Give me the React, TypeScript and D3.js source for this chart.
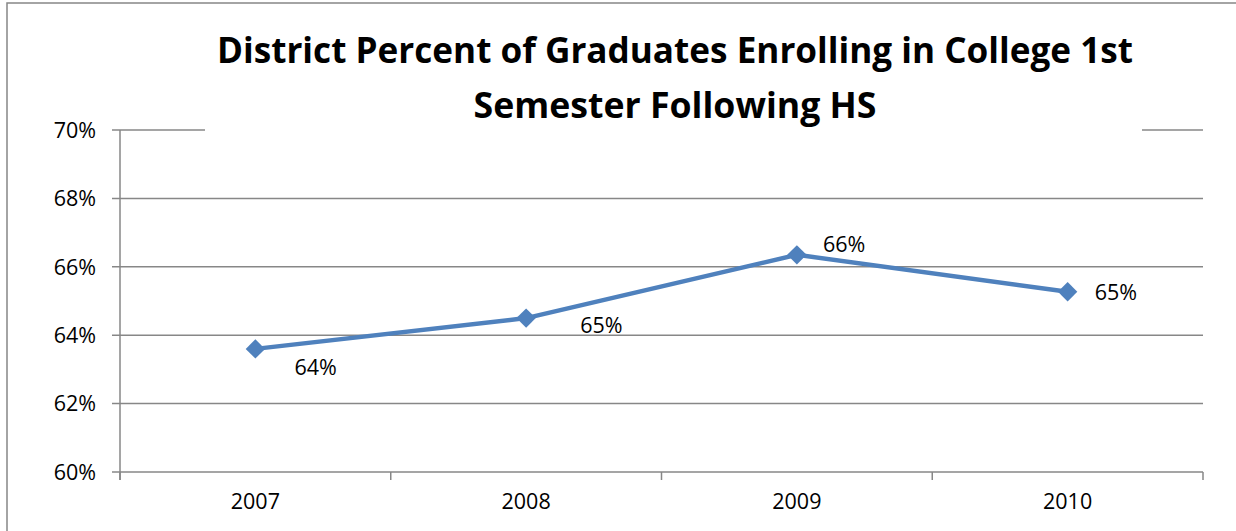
import React from "react";
import * as d3 from "d3";

const categories = ["2007", "2008", "2009", "2010"];
const values = [63.6, 64.5, 66.35, 65.27];
const labels = ["64%", "65%", "66%", "65%"];
const yTicks = [60, 62, 64, 66, 68, 70];
const titleLines = ["District Percent of Graduates Enrolling in College 1st", "Semester Following HS"];

const W = 1236, H = 531;
const M = { left: 120, right: 1203, top: 130, bottom: 472 };
const FONT = "'Open Sans', 'Liberation Sans', sans-serif";
const GRID = "#878787";
const BLUE = "#4F81BD";

export default function App() {
  const x = d3.scaleBand<string>().domain(categories).range([M.left, M.right]);
  const y = d3.scaleLinear().domain([60, 70]).range([M.bottom, M.top]);
  const cx = (c: string) => (x(c) ?? 0) + x.bandwidth() / 2;
  const line = d3.line<number>().x((_, i) => cx(categories[i])).y((v) => y(v));
  const boundaries = categories.map((c) => x(c) ?? 0).concat([M.right]);
  const labelOffsets: [number, number][] = [
    [39, 26],
    [54, 15],
    [26, -3],
    [27, 8],
  ];
  const diamond = d3.symbol().type(d3.symbolDiamond2 ?? d3.symbolDiamond).size(240)();
  return (
    <svg width={W} height={H} style={{ position: "absolute", left: 0, top: 0 }}>
      <rect x={0} y={0} width={W} height={H} fill="#fff" />
      <path d={`M7,${H} V3 H${W}`} fill="none" stroke={GRID} strokeWidth={1.5} />
      {yTicks.map((t) => (
        <g key={t}>
          <line x1={M.left - 8} x2={M.right} y1={y(t)} y2={y(t)} stroke={GRID} strokeWidth={1.5} />
          <text x={96} y={y(t)} dy="0.36em" textAnchor="end" fontFamily={FONT} fontSize={21.5} fill="#000">
            {t}%
          </text>
        </g>
      ))}
      <line x1={M.left} x2={M.left} y1={M.top} y2={M.bottom + 8} stroke={GRID} strokeWidth={1.5} />
      {boundaries.map((b, i) => (
        <line key={i} x1={b} x2={b} y1={M.bottom} y2={M.bottom + 8} stroke={GRID} strokeWidth={1.5} />
      ))}
      {categories.map((c) => (
        <text key={c} x={cx(c)} y={509} textAnchor="middle" fontFamily={FONT} fontSize={21.5} fill="#000">
          {c}
        </text>
      ))}
      <rect x={205} y={8} width={937} height={123} fill="#fff" />
      <text x={675} y={63} textAnchor="middle" fontFamily={FONT} fontWeight="bold" fontSize={36} fill="#000" textLength={916} lengthAdjust="spacingAndGlyphs">
        {titleLines[0]}
      </text>
      <text x={675} y={118} textAnchor="middle" fontFamily={FONT} fontWeight="bold" fontSize={36} fill="#000" textLength={403} lengthAdjust="spacingAndGlyphs">
        {titleLines[1]}
      </text>
      <path d={line(values) ?? ""} fill="none" stroke={BLUE} strokeWidth={4.5} strokeLinejoin="round" />
      {values.map((v, i) => (
        <path key={i} d={diamond ?? ""} transform={`translate(${cx(categories[i])},${y(v)})`} fill={BLUE} />
      ))}
      {values.map((v, i) => (
        <text key={i} x={cx(categories[i]) + labelOffsets[i][0]} y={y(v) + labelOffsets[i][1]} textAnchor="start" fontFamily={FONT} fontSize={21.5} fill="#000">
          {labels[i]}
        </text>
      ))}
    </svg>
  );
}
